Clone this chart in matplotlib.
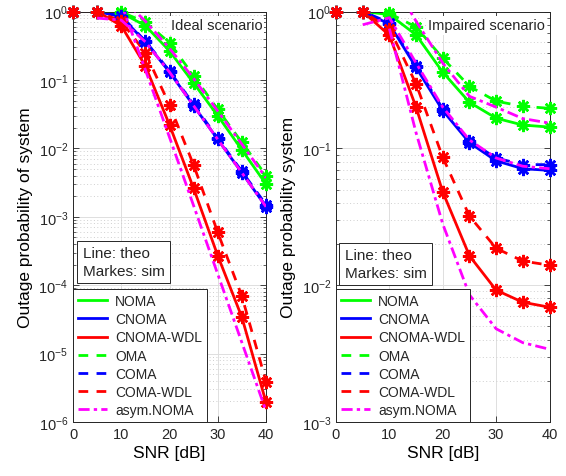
import matplotlib
matplotlib.use("Agg")
import matplotlib.pyplot as plt
from matplotlib.ticker import LogLocator, NullLocator

plt.rcParams["font.family"] = ["Liberation Sans", "DejaVu Sans"]
plt.rcParams["mathtext.fontset"] = "custom"
plt.rcParams["mathtext.rm"] = "Liberation Sans"
plt.rcParams["axes.unicode_minus"] = False
plt.rcParams["axes.edgecolor"] = "#262626"
plt.rcParams["xtick.color"] = "#262626"
plt.rcParams["ytick.color"] = "#262626"
plt.rcParams["text.color"] = "#262626"

# SNR grid (dB)
snr = [0, 5, 10, 15, 20, 25, 30, 35, 40]

# ideal scenario
ideal_noma = [1, 1, 0.96, 0.62, 0.265, 0.09, 0.030, 0.0095, 0.0030]
ideal_cnoma = [1, 1, 0.84, 0.36, 0.13, 0.042, 0.0135, 0.0044, 0.0014]
ideal_cnoma_wdl = [1, 1, 0.62, 0.16, 0.022, 0.0026, 2.7e-4, 3.4e-5, 1.95e-6]
ideal_oma = [1, 1, 0.98, 0.70, 0.35, 0.115, 0.037, 0.0122, 0.0040]
ideal_coma = [1, 1, 0.86, 0.37, 0.135, 0.044, 0.014, 0.0046, 0.0015]
ideal_coma_wdl = [1, 1, 0.72, 0.25, 0.043, 0.0057, 5.9e-4, 6.9e-5, 3.9e-6]
# asymptotes (magenta), each with its own snr range
ideal_asym_x = [[10, 15, 20, 25, 30, 35, 40],
                [5, 10, 15, 20, 25, 30, 35, 40],
                [10, 15, 20, 25, 30, 35, 40]]
ideal_asym_y = [[1.6, 0.72, 0.29, 0.105, 0.035, 0.0115, 0.0037],
                [0.8, 0.75, 0.36, 0.13, 0.042, 0.0135, 0.0044, 0.0014],
                [1.3, 0.14, 0.0145, 1.45e-3, 1.45e-4, 1.45e-5, 1.45e-6]]

# impaired scenario
imp_noma = [1, 1, 0.95, 0.675, 0.36, 0.217, 0.166, 0.148, 0.143]
imp_cnoma = [1, 1, 0.81, 0.39, 0.189, 0.11, 0.081, 0.071, 0.069]
imp_cnoma_wdl = [1, 1, 0.67, 0.20, 0.048, 0.0164, 0.0092, 0.0075, 0.0069]
imp_oma = [1, 1, 0.97, 0.77, 0.456, 0.284, 0.221, 0.203, 0.196]
imp_coma = [1, 1, 0.83, 0.40, 0.195, 0.113, 0.085, 0.076, 0.076]
imp_coma_wdl = [1, 1, 0.75, 0.296, 0.086, 0.032, 0.0186, 0.015, 0.014]
imp_asym_x = [[10, 15, 20, 25, 30, 35, 40],
              [5, 10, 15, 20, 25, 30, 35, 40],
              [10, 15, 20, 25, 30, 35, 40]]
imp_asym_y = [[1.8, 0.85, 0.42, 0.24, 0.20, 0.165, 0.153],
              [0.8, 0.9, 0.42, 0.20, 0.115, 0.085, 0.074, 0.071],
              [0.75, 0.13, 0.028, 0.0085, 0.0048, 0.0038, 0.0034]]

labels = ["NOMA", "CNOMA", "CNOMA-WDL", "OMA", "COMA", "COMA-WDL", "asym.NOMA"]
colors = ["#00ff00", "#0000ff", "#ff0000", "#00ff00", "#0000ff", "#ff0000"]
dashes = [None, None, None, (3.5, 3), (3.5, 3), (3.5, 3)]
asterisk = (8, 2, 0)


def panel(ax, series, asym_x, asym_y, ymin, ylabel, note, note_xy, tag):
    handles = []
    for y, c, d, lab in zip(series, colors, dashes, labels):
        ln, = ax.plot(snr, y, color=c, lw=2, label=lab)
        if d:
            ln.set_dashes(d)
        handles.append(ln)
        ax.plot(snr, y, ls="none", marker=asterisk, ms=9.5, mew=1.8,
                color=c, clip_on=False, zorder=3)
    for k, (xa, ya) in enumerate(zip(asym_x, asym_y)):
        ln, = ax.plot(xa, ya, color="#ff00ff", lw=2, dashes=(4, 1.5, 1.2, 1.5),
                      zorder=4, label="asym.NOMA")
        if k == 0:
            handles.append(ln)

    ax.set_yscale("log")
    ax.set_xlim(0, 40)
    ax.set_ylim(ymin, 1)
    ax.set_xticks([0, 10, 20, 30, 40])
    ax.yaxis.set_major_locator(LogLocator(base=10, numticks=10))
    ax.yaxis.set_minor_locator(LogLocator(base=10, subs=range(2, 10), numticks=20))
    ax.xaxis.set_minor_locator(NullLocator())
    ax.tick_params(which="both", direction="in", top=True, right=True, labelsize=10.5)
    ax.tick_params(which="major", length=4, width=0.6)
    ax.tick_params(which="minor", length=2, width=0.5)
    ax.grid(True, which="major", color="#dedede", lw=0.7)
    ax.grid(True, which="minor", axis="y", color="#cfcfcf", ls=(0, (1, 2.5)), lw=0.7)
    ax.set_axisbelow(True)
    for s in ax.spines.values():
        s.set_linewidth(0.7)

    ax.set_xlabel("SNR [dB]", fontsize=12.5, labelpad=3)
    ax.set_ylabel(ylabel, fontsize=12.5)

    leg = ax.legend(handles, labels, loc="lower left", bbox_to_anchor=(0, 0),
                    borderaxespad=0, fontsize=10, fancybox=False, framealpha=1,
                    edgecolor="#262626", handlelength=2.1, handletextpad=0.6,
                    labelspacing=0.3, borderpad=0.35)
    leg.get_frame().set_linewidth(0.7)
    leg.set_zorder(6)

    ax.text(note_xy[0], note_xy[1], note, transform=ax.transAxes, fontsize=11,
            ha="left", va="center", linespacing=1.35, zorder=6,
            bbox=dict(boxstyle="square,pad=0.35", fc="white", ec="#262626", lw=0.7))
    t = ax.text(tag[1], 0.966, tag[0], transform=ax.transAxes, fontsize=10.5,
                ha=tag[2], va="center", zorder=5,
                bbox=dict(boxstyle="square,pad=0.15", fc="white", ec="none"))
    t.set_clip_on(True)


fig = plt.figure(figsize=(5.66, 4.77), dpi=100)
ax1 = fig.add_axes([73 / 566, 54 / 477, 193 / 566, 410.5 / 477])
ax2 = fig.add_axes([336 / 566, 54 / 477, 213.5 / 566, 410.5 / 477])

panel(ax1,
      [ideal_noma, ideal_cnoma, ideal_cnoma_wdl, ideal_oma, ideal_coma, ideal_coma_wdl],
      ideal_asym_x, ideal_asym_y, 1e-6, "Outage probability of system",
      "Line: theo\nMarkes: sim", (0.05, 0.39), ("Ideal scenario", 0.98, "right"))
panel(ax2,
      [imp_noma, imp_cnoma, imp_cnoma_wdl, imp_oma, imp_coma, imp_coma_wdl],
      imp_asym_x, imp_asym_y, 1e-3, "Outage probability system",
      "Line: theo\nMarkes: sim", (0.04, 0.385), ("Impaired scenario", 0.43, "left"))

fig.savefig("out.png", dpi=100, facecolor="white")
